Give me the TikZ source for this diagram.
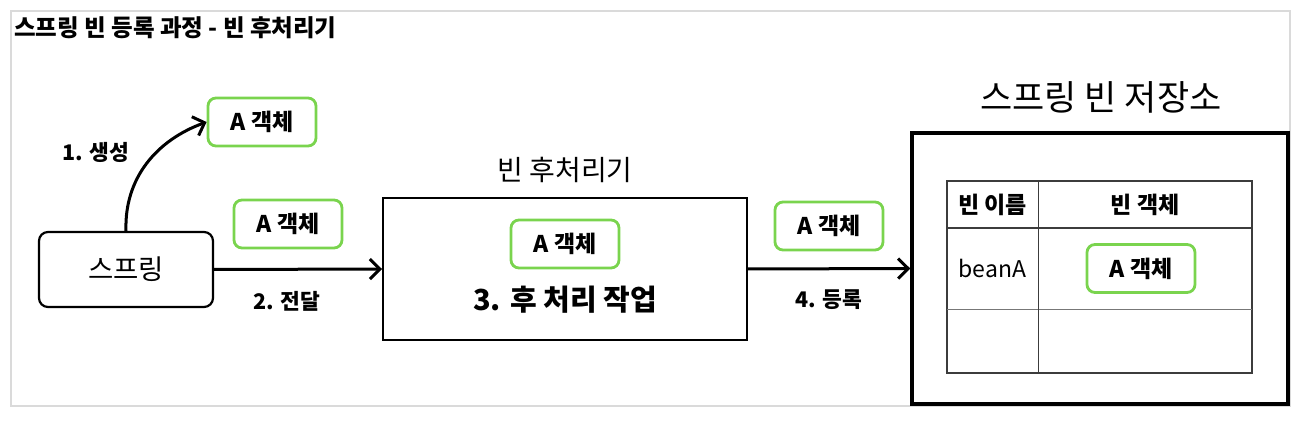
\documentclass[tikz,border=0pt]{standalone}
\usepackage{fontspec}
\setmainfont{Noto Sans CJK KR}
\usetikzlibrary{arrows.meta}
\definecolor{lgreen}{RGB}{122,212,78}
\definecolor{framegray}{RGB}{218,218,218}
\definecolor{tline}{RGB}{60,60,60}
\begin{document}
\begin{tikzpicture}[x=1pt,y=-1pt,
  objbox/.style={draw=lgreen, line width=2.8pt, rounded corners=8pt, minimum width=108pt, minimum height=48pt, inner sep=0pt, font=\fontsize{23}{27}\selectfont\bfseries},
  lbl/.style={inner sep=0pt, font=\fontsize{21.5}{25}\selectfont\bfseries},
  heading/.style={inner sep=0pt, font=\fontsize{28}{33}\selectfont},
  flow/.style={line width=3pt, -{Straight Barb[length=10pt,width=20pt,line width=3pt]}},
  cell/.style={inner sep=0pt, font=\fontsize{23}{27}\selectfont}
]
\useasboundingbox (0,0) rectangle (1306,430);
\draw[framegray, line width=2pt] (11,11) rectangle (1290,406);
\node[anchor=west, inner sep=0pt, font=\fontsize{23.5}{28}\selectfont\bfseries] (title) at (14,28) {스프링 빈 등록 과정 - 빈 후처리기};

% spring
\node[draw, line width=2.2pt, rounded corners=9pt, minimum width=174pt, minimum height=75pt, inner sep=0pt, font=\fontsize{27.5}{32}\selectfont] (spring) at (126,269.5) {스프링};

% created object
\node[objbox] (a1) at (262,122) {A 객체};
\node[lbl] (l1) at (96,152) {1. 생성};
\draw[flow] (spring.north) to[out=92,in=200] (a1.west);

% passed object
\node[objbox] (a2) at (288,224) {A 객체};

% bean post processor
\node[heading] (bpptitle) at (565,170) {빈 후처리기};
\node[draw, line width=2pt, minimum width=364pt, minimum height=142pt, inner sep=0pt] (bpp) at (565,269) {};
\node[objbox] (a3) at (565,244) {A 객체};
\node[inner sep=0pt, font=\fontsize{29}{34}\selectfont\bfseries] (step3) at (565,300) {3. 후 처리 작업};

\draw[flow] (spring.east) -- (bpp.west);
\node[lbl] (l2) at (287,301) {2. 전달};

% register
\node[objbox] (a4) at (829,226) {A 객체};
\node[draw, line width=3.5pt, minimum width=376pt, minimum height=271pt, inner sep=0pt] (store) at (1100,268.5) {};
\draw[flow] (bpp.east) -- (store.west);
\node[lbl] (l4) at (829,300) {4. 등록};

\node[inner sep=0pt, font=\fontsize{35}{41}\selectfont] (storetitle) at (1101,97) {스프링 빈 저장소};

% table
\draw[tline, line width=1.2pt] (947,181) rectangle (1252,373);
\draw[tline, line width=1.8pt] (947,228) -- (1252,228);
\draw[tline!70, line width=1pt] (947,309) -- (1252,309);
\draw[tline, line width=1pt] (1038,181) -- (1038,373);
\node[cell, font=\fontsize{23}{27}\selectfont\bfseries] (h1) at (992.5,204.5) {빈 이름};
\node[cell, font=\fontsize{23}{27}\selectfont\bfseries] (h2) at (1145,204.5) {빈 객체};
\node[cell] (beanA) at (992.5,268.5) {beanA};
\node[objbox] (a5) at (1141,268.5) {A 객체};
\end{tikzpicture}
\end{document}
